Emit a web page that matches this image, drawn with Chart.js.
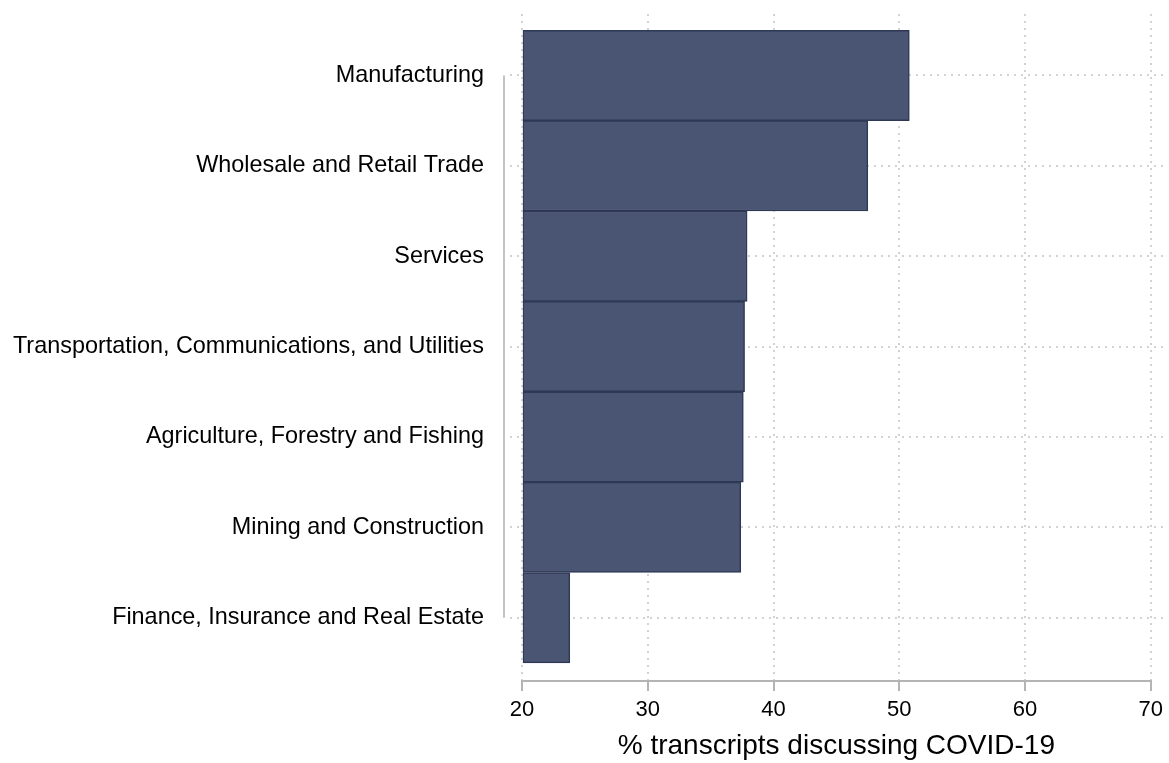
<!DOCTYPE html>
<html>
<head>
<meta charset="utf-8">
<title>COVID-19 por sector</title>
<script src="https://cdn.jsdelivr.net/npm/chart.js@4/dist/chart.umd.min.js"></script>
<style>
    body { margin: 0; background: #fff; }
    #contenedor { width: 1169px; height: 763px; position: relative; }
</style>
</head>
<body>
<div id="contenedor">
    <canvas id="chartSectores"></canvas>
</div>
<script>
// Datos del gráfico
const sectores = [
    'Manufacturing',
    'Wholesale and Retail Trade',
    'Services',
    'Transportation, Communications, and Utilities',
    'Agriculture, Forestry and Fishing',
    'Mining and Construction',
    'Finance, Insurance and Real Estate'
];
const porcentajes = [50.8, 47.5, 37.9, 37.7, 37.6, 37.4, 23.8];
const ticksX = [20, 30, 40, 50, 60, 70];
const tituloX = '% transcripts discussing COVID-19';

// Colores
const colorBarra = '#4a5573';
const colorBorde = '#2e3956';
const colorGrid = '#d2d2d2';
const colorEje = '#b4b4b4';
const colorTexto = '#000';
const fuente = "Arial, 'Liberation Sans', sans-serif";

// Eje Y al estilo Stata: línea separada y rejilla punteada que sale del área
const ejeStata = {
    id: 'ejeStata',
    beforeDatasetsDraw(chart) {
        const { ctx, chartArea } = chart;
        const y = chart.scales.y;
        ctx.save();
        ctx.strokeStyle = colorGrid;
        ctx.lineWidth = 2;
        ctx.setLineDash([2, 5]);
        sectores.forEach((s, i) => {
            const py = Math.round(y.getPixelForValue(i));
            ctx.beginPath();
            ctx.moveTo(chartArea.left - 12, py);
            ctx.lineTo(chartArea.right + 17, py);
            ctx.stroke();
        });
        ctx.setLineDash([]);
        ctx.strokeStyle = '#c4c4c4';
        ctx.beginPath();
        ctx.moveTo(chartArea.left - 18, y.getPixelForValue(0));
        ctx.lineTo(chartArea.left - 18, y.getPixelForValue(sectores.length - 1));
        ctx.stroke();
        ctx.restore();
    }
};

function initChart() {
    const ctx = document.getElementById('chartSectores');
    new Chart(ctx, {
        type: 'bar',
        data: {
            datasets: [{
                data: porcentajes.map((v, i) => ({ x: v, y: i })),
                base: ticksX[0],
                backgroundColor: colorBarra,
                borderColor: colorBorde,
                borderWidth: 1.5,
                borderSkipped: false,
                barPercentage: 1,
                categoryPercentage: 1
            }]
        },
        options: {
            indexAxis: 'y',
            responsive: true,
            maintainAspectRatio: false,
            animation: false,
            layout: { padding: { top: 14, right: 17, left: 0, bottom: 0 } },
            plugins: {
                legend: { display: false },
                tooltip: { enabled: false }
            },
            scales: {
                x: {
                    type: 'linear',
                    min: ticksX[0],
                    max: ticksX[ticksX.length - 1],
                    afterBuildTicks: s => { s.ticks = ticksX.map(v => ({ value: v })); },
                    afterFit: s => { s.height = 82; },
                    ticks: {
                        color: colorTexto,
                        font: { family: fuente, size: 22 },
                        padding: 6,
                        maxRotation: 0
                    },
                    grid: {
                        color: colorGrid,
                        lineWidth: 2,
                        tickLength: 10,
                        tickColor: colorEje,
                        tickWidth: 2,
                        tickBorderDash: []
                    },
                    border: { display: true, color: colorEje, width: 2, dash: [2, 5] },
                    title: {
                        display: true,
                        text: tituloX,
                        color: colorTexto,
                        font: { family: fuente, size: 28 },
                        padding: { top: 2, bottom: 0 }
                    }
                },
                y: {
                    type: 'linear',
                    reverse: true,
                    offset: false,
                    min: -0.68,
                    max: 6.70,
                    afterBuildTicks: s => { s.ticks = sectores.map((c, i) => ({ value: i })); },
                    afterFit: s => {
                        s.width = 522;
                        // sin relleno extra arriba/abajo por las etiquetas
                        s.paddingTop = 0;
                        s.paddingBottom = 0;
                    },
                    ticks: {
                        callback: v => sectores[v],
                        color: colorTexto,
                        font: { family: fuente, size: 23.4 },
                        padding: 38,
                        autoSkip: false
                    },
                    grid: { display: false, drawTicks: false, offset: false },
                    border: { display: false }
                }
            }
        },
        plugins: [ejeStata]
    });
}

document.addEventListener('DOMContentLoaded', initChart);
</script>
</body>
</html>
